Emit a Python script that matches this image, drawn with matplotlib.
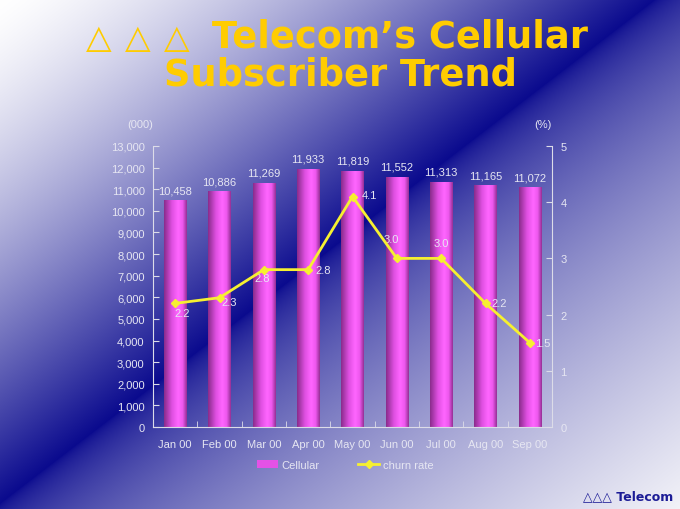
import numpy as np
import matplotlib
matplotlib.use("Agg")
import matplotlib.pyplot as plt
from matplotlib.colors import LinearSegmentedColormap, to_rgb
from matplotlib.patches import Patch
from matplotlib.lines import Line2D

# data
months = ["Jan 00", "Feb 00", "Mar 00", "Apr 00", "May 00", "Jun 00", "Jul 00", "Aug 00", "Sep 00"]
subscribers = [10458, 10886, 11269, 11933, 11819, 11552, 11313, 11165, 11072]
churn = [2.2, 2.3, 2.8, 2.8, 4.1, 3.0, 3.0, 2.2, 1.5]
left_ticks = list(range(0, 13001, 1000))
right_ticks = [0, 1, 2, 3, 4, 5]

# where each churn label sits relative to its marker (points)
churn_label_offsets = [(5, -7), (7, -3), (-1, -6), (11, 0), (12, 1), (-4, 14), (0, 11), (10, 0), (9, 0)]

txt_col = "#e6e6f2"
W, H = 680, 510

fig = plt.figure(figsize=(6.8, 5.1), dpi=100)

# slide background: white -> dark blue diagonal -> pale lavender
bg = fig.add_axes([0, 0, 1, 1], zorder=-10)
xx, yy = np.meshgrid(np.arange(W), np.arange(H))
t = xx + 1.3 * yy
d = 655.0
white = np.array(to_rgb("#ffffff"))
dark = np.array(to_rgb("#0a0a8e"))
pale = np.array(to_rgb("#f2f2f8"))
s1 = np.clip(t / d, 0, 1) ** 1.4
s2 = np.clip((t - d) / (t.max() - d), 0, 1) ** 0.6
img = np.where((t <= d)[..., None],
               white * (1 - s1[..., None]) + dark * s1[..., None],
               dark * (1 - s2[..., None]) + pale * s2[..., None])
bg.imshow(img, extent=[0, 1, 0, 1], aspect="auto", interpolation="bilinear")
bg.set_axis_off()

# title
for tx_left in [86, 125, 164]:
    fig.text(tx_left / W, 1 - 48 / H, "\u25b3", color="#ffcc00", fontsize=24, ha="left", va="baseline")
fig.text(212 / W, 1 - 48 / H, "Telecom\u2019s Cellular", color="#ffcc00", fontsize=26.5,
         weight="bold", ha="left", va="baseline")
fig.text(340 / W, 1 - 86 / H, "Subscriber Trend", color="#ffcc00", fontsize=26.5,
         weight="bold", ha="center", va="baseline")

fig.text(673 / W, 1 - 497 / H, "\u25b3\u25b3\u25b3 Telecom", color="#1c1c96", fontsize=9,
         weight="bold", ha="right", va="center")

ax = fig.add_axes([153 / W, 1 - 428 / H, (552 - 153) / W, (428 - 147) / H])
ax.set_facecolor("none")
x = np.arange(len(months))

bars = ax.bar(x, subscribers, width=0.5, color="none", zorder=2)
bar_cmap = LinearSegmentedColormap.from_list(
    "cyl", [(0, "#8a2c8c"), (0.35, "#e050e2"), (0.62, "#ff66ff"), (0.82, "#ee58ee"), (1, "#963096")])
grad = np.linspace(0, 1, 64)[None, :]
for b in bars:
    ax.imshow(grad, extent=[b.get_x(), b.get_x() + b.get_width(), 0, b.get_height()],
              cmap=bar_cmap, aspect="auto", zorder=2)
for xi, v in zip(x, subscribers):
    ax.annotate(f"{v:,}", (xi, v), xytext=(0, 4), textcoords="offset points", ha="center",
                va="bottom", color=txt_col, fontsize=8, family="Liberation Sans")

ax.set_xlim(-0.5, len(months) - 0.5)
ax.set_ylim(0, 13000)
ax.set_yticks(left_ticks)
ax.set_yticklabels([f"{v:,}" for v in left_ticks])
ax.set_xticks(x)
ax.set_xticklabels(months)
ax.set_xticks(np.arange(0.5, len(months) - 1, 1), minor=True)
ax.tick_params(axis="x", which="major", length=0, pad=9)
ax.tick_params(axis="x", which="minor", length=4, direction="in", color="#dcdce8")
ax.tick_params(axis="y", length=4, direction="in", color="#dcdce8", pad=6)
for lab in ax.get_xticklabels() + ax.get_yticklabels():
    lab.set_color(txt_col)
    lab.set_fontsize(8)
    lab.set_family("Liberation Sans")
for side in ["left", "bottom"]:
    ax.spines[side].set_color("#dcdce8")
for side in ["top", "right"]:
    ax.spines[side].set_visible(False)

ax2 = ax.twinx()
ax2.set_facecolor("none")
ax2.plot(x, churn, color="#f6f030", lw=2, marker="D", ms=4.5, zorder=4)
for xi, v, off in zip(x, churn, churn_label_offsets):
    ax2.annotate(f"{v:.1f}", (xi, v), xytext=off, textcoords="offset points", ha="center",
                 va="center", color=txt_col, fontsize=8, family="Liberation Sans")
ax2.set_ylim(0, 5)
ax2.set_yticks(right_ticks)
ax2.tick_params(axis="y", length=4, direction="in", color="#dcdce8", pad=6)
for lab in ax2.get_yticklabels():
    lab.set_color(txt_col)
    lab.set_fontsize(8)
    lab.set_family("Liberation Sans")
ax2.spines["right"].set_color("#dcdce8")
for side in ["top", "left", "bottom"]:
    ax2.spines[side].set_visible(False)

fig.text(140 / W, 1 - 125 / H, "(000)", color=txt_col, fontsize=8, family="Liberation Sans",
         ha="center", va="center")
fig.text(543 / W, 1 - 125 / H, "(%)", color=txt_col, fontsize=8, family="Liberation Sans",
         ha="center", va="center")

handles = [Patch(facecolor="#e452e6", edgecolor="none"),
           Line2D([], [], color="#f6f030", lw=2, marker="D", ms=4.5)]
leg = fig.legend(handles, ["Cellular", "churn rate"], loc="center", ncol=2, frameon=False,
                 bbox_to_anchor=(345 / W, 1 - 466 / H), handlelength=1.9, handleheight=0.8,
                 handletextpad=0.3, columnspacing=3.5,
                 prop={"family": "Liberation Sans", "size": 8})
for tx in leg.get_texts():
    tx.set_color(txt_col)

fig.savefig("out.png", dpi=100)
